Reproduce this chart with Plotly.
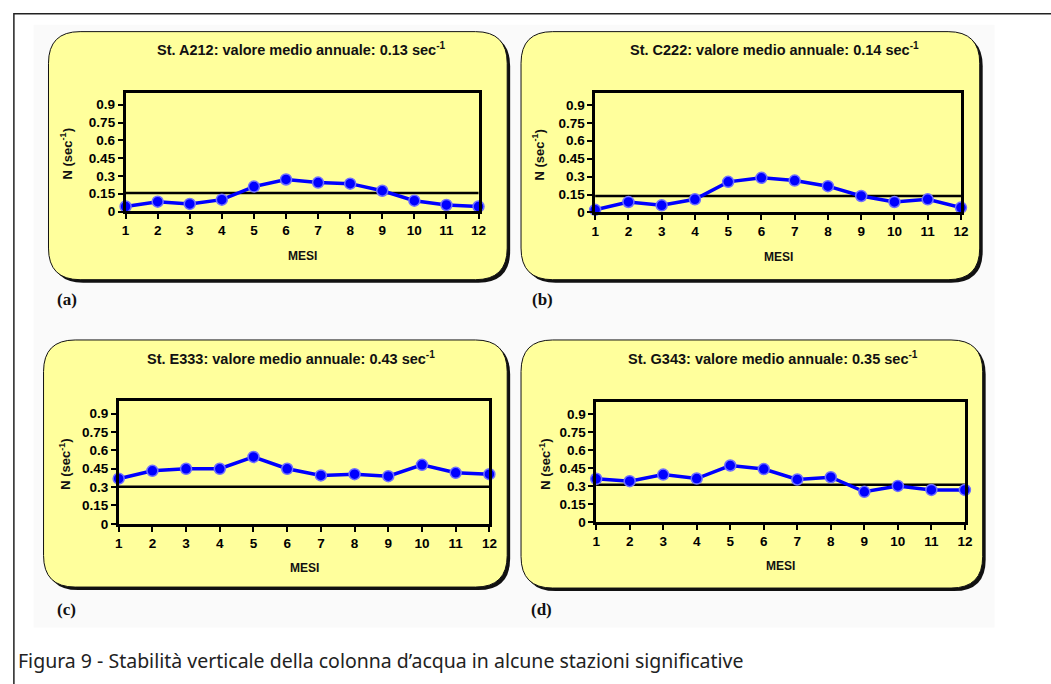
import plotly.graph_objects as go

W, H = 1051, 684

# ---------------- data ----------------
months = [1, 2, 3, 4, 5, 6, 7, 8, 9, 10, 11, 12]
n_a = [0.042, 0.083, 0.064, 0.100, 0.210, 0.270, 0.244, 0.235, 0.175, 0.091, 0.055, 0.042]
n_b = [0.022, 0.088, 0.060, 0.110, 0.256, 0.290, 0.267, 0.220, 0.138, 0.088, 0.110, 0.041]
n_c = [0.368, 0.432, 0.449, 0.449, 0.546, 0.449, 0.395, 0.405, 0.389, 0.481, 0.416, 0.405]
n_d = [0.360, 0.340, 0.395, 0.362, 0.471, 0.441, 0.354, 0.373, 0.251, 0.300, 0.267, 0.267]
ref_lines = [0.155, 0.138, 0.303, 0.310]
stations = ["A212", "C222", "E333", "G343"]
annual_means = ["0.13", "0.14", "0.43", "0.35"]
panel_letters = ["(a)", "(b)", "(c)", "(d)"]
y_tickvals = [0, 0.15, 0.3, 0.45, 0.6, 0.75, 0.9]
y_ticktext = ["0", "0.15", "0.3", "0.45", "0.6", "0.75", "0.9"]
x_title = "MESI"
y_title = "N (sec<sup>-1</sup>)"
caption = "Figura 9 - Stabilità verticale della colonna d’acqua in alcune stazioni significative"
series = [n_a, n_b, n_c, n_d]

# ---------------- layout geometry (pixels) ----------------
plot_px = [  # x0, x1, ytop, ybottom
    (123, 480, 94, 214),
    (598, 968, 94, 215),
    (116, 491, 406, 530),
    (599, 972, 407, 528),
]
box_px = [  # x0, y0, x1, y1
    (45, 32, 509, 283),
    (523, 32, 987, 283),
    (40, 344, 509, 594),
    (523, 344, 990, 595),
]
title_pos = [(300, 50), (779, 50), (290, 362), (778, 362)]
ytitle_x = [63, 540, 61, 547]
letter_pos = [(64, 303), (545, 303), (63, 617), (544, 617)]


def px(x):
    return x / W


def py(y):
    return 1 - y / H


def rounded_path(x0, y0, x1, y1, r):
    rx, ry = r / W, r / H
    X0, X1 = px(x0), px(x1)
    Y0, Y1 = py(y0), py(y1)  # Y0 top (larger), Y1 bottom
    return (
        f"M {X0+rx},{Y0} L {X1-rx},{Y0} Q {X1},{Y0} {X1},{Y0-ry} "
        f"L {X1},{Y1+ry} Q {X1},{Y1} {X1-rx},{Y1} "
        f"L {X0+rx},{Y1} Q {X0},{Y1} {X0},{Y1+ry} "
        f"L {X0},{Y0-ry} Q {X0},{Y0} {X0+rx},{Y0} Z"
    )


fig = go.Figure()
shapes = []
annotations = []

# faint background of the embedded image
shapes.append(dict(type="rect", xref="paper", yref="paper",
                   x0=px(30), x1=px(1002), y0=py(635), y1=py(25),
                   fillcolor="#fafafa", line=dict(width=0), layer="below"))
# outer frame
shapes.append(dict(type="rect", xref="paper", yref="paper",
                   x0=px(10), x1=px(1070), y0=py(700), y1=py(14),
                   fillcolor="rgba(0,0,0,0)", line=dict(color="#222", width=1.5), layer="below"))

tick_font = dict(family="Liberation Sans, Arial", size=13.5, color="black", weight="bold")

for i in range(4):
    ax = "" if i == 0 else str(i + 1)
    x0, x1, yt, yb = plot_px[i]
    bx0, by0, bx1, by1 = box_px[i]
    # shadow and yellow rounded box
    shapes.append(dict(type="path", xref="paper", yref="paper",
                       path=rounded_path(bx0 + 3, by0 + 3, bx1 + 3, by1 + 3, 32),
                       fillcolor="#111", line=dict(width=0), layer="below"))
    shapes.append(dict(type="path", xref="paper", yref="paper",
                       path=rounded_path(bx0, by0, bx1, by1, 32),
                       fillcolor="#ffff9c", line=dict(color="#111", width=1), layer="below"))

    fig.add_trace(go.Scatter(
        x=months, y=series[i], mode="lines+markers",
        line=dict(color="#0000ff", width=3.5),
        marker=dict(color="#0000ff", size=11, line=dict(color="#7070ff", width=1.5)),
        cliponaxis=False, xaxis="x" + ax, yaxis="y" + ax, showlegend=False,
        hoverinfo="x+y",
    ))

    fig.layout["xaxis" + ax] = dict(
        domain=[px(x0), px(x1)], range=[months[0], months[-1]], anchor="y" + ax,
        tickvals=months, ticktext=[str(m) for m in months],
        showline=True, linecolor="black", linewidth=2.5, mirror=True,
        ticks="outside", ticklen=5, tickwidth=2, tickcolor="black",
        showgrid=False, zeroline=False, tickfont=tick_font, fixedrange=True,
    )
    fig.layout["yaxis" + ax] = dict(
        domain=[py(yb), py(yt)], range=[0, 1.0], anchor="x" + ax,
        tickvals=y_tickvals, ticktext=y_ticktext,
        showline=True, linecolor="black", linewidth=2.5, mirror=True,
        ticks="outside", ticklen=5, tickwidth=2, tickcolor="black",
        showgrid=False, zeroline=False, tickfont=tick_font, fixedrange=True,
    )

    # reference horizontal line
    shapes.append(dict(type="line", xref="x" + ax + " domain", yref="y" + ax,
                       x0=0, x1=1, y0=ref_lines[i], y1=ref_lines[i],
                       line=dict(color="black", width=2.5), layer="below"))

    tx, ty = title_pos[i]
    annotations.append(dict(
        xref="paper", yref="paper", x=px(tx), y=py(ty), xanchor="center", yanchor="middle",
        text=f"St. {stations[i]}: valore medio annuale: {annual_means[i]} sec<sup>-1</sup>",
        showarrow=False,
        font=dict(family="Liberation Sans, Arial", size=14.5, color="#111", weight="bold"),
    ))
    annotations.append(dict(
        xref="paper", yref="paper", x=px((x0 + x1) / 2), y=py(yb + 45),
        xanchor="center", yanchor="middle", text=x_title, showarrow=False,
        font=dict(family="Liberation Sans, Arial", size=12, color="#111", weight="bold"),
    ))
    annotations.append(dict(
        xref="paper", yref="paper", x=px(ytitle_x[i]), y=py((yt + yb) / 2 + 2),
        xanchor="center", yanchor="middle", text=y_title, showarrow=False, textangle=-90,
        font=dict(family="Liberation Sans, Arial", size=13, color="#111", weight="bold"),
    ))
    lx, ly = letter_pos[i]
    annotations.append(dict(
        xref="paper", yref="paper", x=px(lx), y=py(ly), xanchor="center", yanchor="middle",
        text=panel_letters[i], showarrow=False,
        font=dict(family="Liberation Serif, Times New Roman", size=17, color="#111", weight="bold"),
    ))

annotations.append(dict(
    xref="paper", yref="paper", x=px(12), y=py(668), xanchor="left", yanchor="middle",
    text=caption, showarrow=False,
    font=dict(family="Noto Sans", size=19.5, color="#222"),
))

fig.update_layout(
    width=W, height=H, margin=dict(l=0, r=0, t=0, b=0),
    paper_bgcolor="white", plot_bgcolor="white",
    shapes=shapes, annotations=annotations, showlegend=False,
)

fig.write_html("out.html", post_script="document.body.style.margin='0';document.body.style.overflow='hidden';",
               config={"displayModeBar": False})
